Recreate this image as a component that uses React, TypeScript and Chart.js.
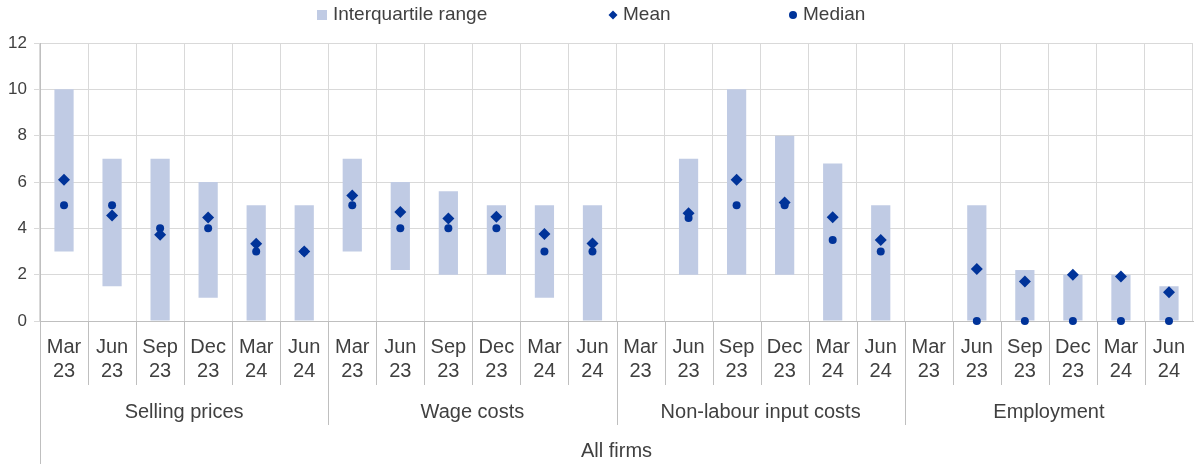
import React, { useEffect, useRef } from "react";
import { Chart, registerables } from "chart.js";

Chart.register(...registerables);

const periods: string[][] = [
  ["Mar", "23"], ["Jun", "23"], ["Sep", "23"], ["Dec", "23"], ["Mar", "24"], ["Jun", "24"],
];
const groups: string[] = ["Selling prices", "Wage costs", "Non-labour input costs", "Employment"];
const outerLabel = "All firms";
const yTicks: number[] = [0, 2, 4, 6, 8, 10, 12];

const iqrLow: (number | null)[] = [
  3, 1.5, 0, 1, 0, 0,
  3, 2.2, 2, 2, 1, 0,
  null, 2, 2, 2, 0, 0,
  null, 0, 0, 0, 0, 0,
];
const iqrHigh: (number | null)[] = [
  10, 7, 7, 6, 5, 5,
  7, 6, 5.6, 5, 5, 5,
  null, 7, 10, 8, 6.8, 5,
  null, 5, 2.2, 2, 2, 1.5,
];
const meanValues: (number | null)[] = [
  6.1, 4.55, 3.72, 4.47, 3.33, 3,
  5.42, 4.7, 4.42, 4.5, 3.76, 3.35,
  null, 4.65, 6.1, 5.12, 4.48, 3.5,
  null, 2.25, 1.7, 2.0, 1.92, 1.24,
];
const medianValues: (number | null)[] = [
  5, 5, 4, 4, 3, 3,
  5, 4, 4, 4, 3, 3,
  null, 4.45, 5, 5, 3.5, 3,
  null, 0, 0, 0, 0, 0,
];

const legendLabels = ["Interquartile range", "Mean", "Median"];

const TEXT = "#404040";
const BAR = "#c0cbe4";
const MARK = "#003399";
const GRID = "#d9d9d9";
const AXIS = "#bfbfbf";
const FONT = "'Liberation Sans', Arial, sans-serif";

const labels = groups.flatMap(() => periods.map((p) => p));

const axisPlugin = {
  id: "multiLevelAxis",
  afterDraw(chart: any) {
    const ctx = chart.ctx as CanvasRenderingContext2D;
    const x = chart.scales.x;
    const n = labels.length;
    const step = (x.right - x.left) / n;
    const bottom = x.bottom;
    ctx.save();
    ctx.strokeStyle = AXIS;
    ctx.lineWidth = 1;
    const lx = Math.round(x.left) + 0.5;
    ctx.beginPath();
    ctx.moveTo(lx, x.top);
    ctx.lineTo(lx, bottom);
    ctx.stroke();
    for (let i = 1; i < n; i++) {
      const bx = Math.round(x.getPixelForTick(i) - step / 2) + 0.5;
      const long = i % periods.length === 0;
      ctx.beginPath();
      ctx.moveTo(bx, x.top);
      ctx.lineTo(bx, x.top + (long ? 104 : 64));
      ctx.stroke();
    }
    ctx.fillStyle = TEXT;
    ctx.font = `20px ${FONT}`;
    ctx.textAlign = "center";
    ctx.textBaseline = "middle";
    labels.forEach((lab, i) => {
      const cx = x.getPixelForTick(i);
      ctx.fillText(lab[0], cx, x.top + 26);
      ctx.fillText(lab[1], cx, x.top + 50);
    });
    groups.forEach((g, gi) => {
      const a = x.getPixelForTick(gi * periods.length) - step / 2;
      const b = x.getPixelForTick(gi * periods.length + periods.length - 1) + step / 2;
      ctx.fillText(g, (a + b) / 2, x.top + 91);
    });
    ctx.fillText(outerLabel, (x.left + x.right) / 2, x.top + 130);

    // legend
    ctx.font = `19px ${FONT}`;
    ctx.textAlign = "left";
    const ly = 15;
    ctx.fillStyle = BAR;
    ctx.fillRect(317, ly - 5, 10, 10);
    ctx.fillStyle = TEXT;
    ctx.fillText(legendLabels[0], 333, ly);
    ctx.fillStyle = MARK;
    ctx.beginPath();
    ctx.moveTo(613, ly - 4.5);
    ctx.lineTo(617.5, ly);
    ctx.lineTo(613, ly + 4.5);
    ctx.lineTo(608.5, ly);
    ctx.closePath();
    ctx.fill();
    ctx.fillStyle = TEXT;
    ctx.fillText(legendLabels[1], 623, ly);
    ctx.fillStyle = MARK;
    ctx.beginPath();
    ctx.arc(793, ly, 4, 0, Math.PI * 2);
    ctx.fill();
    ctx.fillStyle = TEXT;
    ctx.fillText(legendLabels[2], 803, ly);
    ctx.restore();
  },
};

export default function App() {
  const ref = useRef<HTMLCanvasElement | null>(null);
  useEffect(() => {
    if (!ref.current) return;
    Chart.defaults.font.family = FONT;
    const chart = new Chart(ref.current, {
      type: "bar",
      data: {
        labels,
        datasets: [
          {
            type: "line",
            label: legendLabels[1],
            data: meanValues,
            showLine: false,
            pointStyle: "rectRot",
            pointRadius: 6,
            pointBackgroundColor: MARK,
            pointBorderColor: MARK,
            pointBorderWidth: 0,
            clip: false,
            order: 1,
          } as any,
          {
            type: "line",
            label: legendLabels[2],
            data: medianValues,
            showLine: false,
            pointStyle: "circle",
            pointRadius: 4,
            pointBackgroundColor: MARK,
            pointBorderColor: MARK,
            pointBorderWidth: 0,
            clip: false,
            order: 2,
          } as any,
          {
            type: "bar",
            label: legendLabels[0],
            data: iqrLow.map((l, i) => (l == null || iqrHigh[i] == null ? null : [l, iqrHigh[i]])) as any,
            backgroundColor: BAR,
            barPercentage: 0.4,
            categoryPercentage: 1,
            order: 3,
          },
        ],
      },
      options: {
        animation: false,
        responsive: true,
        maintainAspectRatio: false,
        layout: { autoPadding: false, padding: { top: 43, right: 1, left: 0, bottom: 0 } },
        plugins: { legend: { display: false }, tooltip: { enabled: false } },
        scales: {
          x: {
            offset: true,
            grid: { color: GRID, offset: true, drawTicks: false },
            border: { color: AXIS },
            ticks: { display: false },
            afterFit: (s: any) => {
              s.height = 143;
            },
          },
          y: {
            min: 0,
            max: 12,
            afterBuildTicks: (s: any) => {
              s.ticks = yTicks.map((v) => ({ value: v }));
            },
            grid: { color: GRID, tickLength: 6, tickColor: GRID },
            border: { color: AXIS },
            ticks: { color: TEXT, font: { size: 17, family: FONT }, padding: 7 },
            afterFit: (s: any) => {
              s.width = 40;
            },
          },
        },
      },
      plugins: [axisPlugin],
    });
    return () => chart.destroy();
  }, []);
  return (
    <div style={{ position: "absolute", left: 0, top: 0, width: 1194, height: 464 }}>
      <canvas ref={ref} />
    </div>
  );
}
